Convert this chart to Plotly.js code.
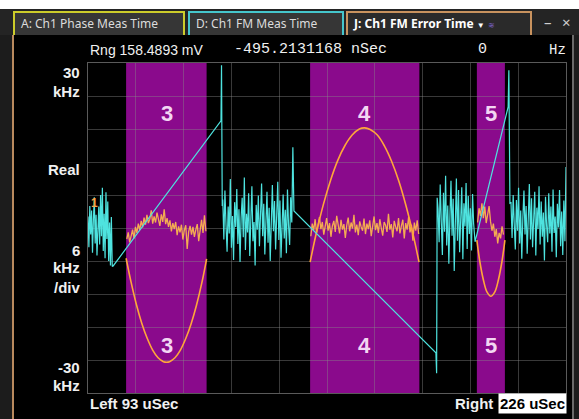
<!DOCTYPE html>
<html><head><meta charset="utf-8">
<script src="https://cdn.plot.ly/plotly-3.0.1.min.js"></script>
<style>
html,body{margin:0;padding:0;background:#fff;}
#wrap{position:relative;width:579px;height:419px;overflow:hidden;background:#000;}
#chart{position:absolute;left:0;top:0;width:579px;height:419px;}
.ov{position:absolute;pointer-events:none;box-sizing:border-box;}
.tab{position:absolute;top:11px;height:24px;box-sizing:border-box;border:2px solid;border-bottom:none;font:12px 'Noto Sans',sans-serif;color:#dcdcdc;line-height:21px;padding-left:6px;white-space:nowrap;background:#363636;pointer-events:none;}
</style></head>
<body>
<div id="wrap">
<div id="chart"></div>
<div class="ov" style="left:0;top:0;width:579px;height:9px;background:#fff;"></div>
<div class="ov" style="left:0;top:9px;width:579px;height:26px;background:#242424;"></div>
<div class="ov" style="left:0;top:35px;width:12px;height:384px;background:#1c1c1c;"></div>
<div class="ov" style="left:12px;top:35px;width:2px;height:384px;background:#b98a5e;"></div>
<div class="ov" style="left:572px;top:35px;width:7px;height:384px;background:#1c1c1c;border-left:2px solid #6a6a6a;"></div>
<div class="tab" style="left:13px;width:172px;border-color:#cccc2a;">A: Ch1 Phase Meas Time</div>
<div class="tab" style="left:188px;width:156px;border-color:#45c6cc;">D: Ch1 FM Meas Time</div>
<div class="tab" style="left:346px;width:186px;border-color:#c8925e;background:#2a2a2a;color:#fff;font-weight:bold;">J: Ch1 FM Error Time <span style="font-size:8px;">&#9660;</span> <span style="font-size:8px;color:#7c62c8;font-weight:normal;">&#8779;</span></div>
<div class="ov" style="left:544px;top:12px;font:15px 'Noto Sans',sans-serif;color:#cfcfcf;">&#8211;</div>
<div class="ov" style="left:562px;top:12px;font:15px 'Noto Sans',sans-serif;color:#cfcfcf;">&#215;</div>
</div>
<script>
// ---- axis / scale ----
const tLeft = 93, tRight = 226;          // uSec
const fMin = -30, fMax = 30;             // kHz, 6 kHz/div
const xDiv = 13.3, yDiv = 6;

// ---- shaded pulse regions ----
const regionLabels = ['3', '4', '5'];
const regionStart = [103.6, 154.8, 201.2];
const regionEnd = [126.0, 185.2, 209.0];
const regionLabelT = [115.0, 170.0, 205.1];
const regionLabelTopF = 20.9, regionLabelBotF = -21.3;

// ---- D: FM Meas (cyan) ----
const cyanNoise1T0 = 93.0, cyanNoise1Dt = 0.25;
const cyanNoise1 = [2.1, -3.5, 4.0, -1.2, 3.2, -4.5, 1.5, 5.6, -2.8, 2.4, -5.0, 0.8, 3.9, -3.0, 6.0, -1.5, 7.3, -4.2, 2.6, -5.5, 6.5, -2.0, 4.8, -6.0, 1.0, -6.8, 2.0, -7.0];
const ramp3T = [100.0, 130.0, 130.15, 130.35];
const ramp3F = [-6.9, 19.5, 29.6, 4.0];
const cyanNoise2T0 = 130.5, cyanNoise2Dt = 0.3;
const cyanNoise2 = [5.2, -2.1, 6.8, 0.5, -4.3, 3.9, -1.0, 8.9, -3.6, 2.2, -5.8, 4.7, 0.2, 7.1, -2.9, 3.4, -6.2, 1.8, 5.5, -1.7, 9.2, -4.0, 2.6, -0.8, 6.3, -5.1, 3.0, 7.6, -2.4, 1.1, -6.8, 4.2, -0.3, 5.9, -3.3, 2.9, 8.1, -1.5, 4.4, -4.8, 0.9, 6.6, -2.7, 3.7, -6.0, 1.5, 7.8, -0.6, 4.9, -3.9, 2.3, 8.4, -2.2, 5.0, -5.4, 1.2, 6.1, -1.9, 3.3, -4.6, 7.0, 0.4, -3.1, 5.6, 1.0];
const ramp4T = [150.0, 150.3, 189.8, 190.0, 190.15];
const ramp4F = [14.7, 3.1, -22.7, -26.4, 5.5];
const cyanNoise3T0 = 190.4, cyanNoise3Dt = 0.3;
const cyanNoise3 = [3.5, -2.6, 7.9, 1.2, -4.9, 6.4, -0.7, 9.5, -3.2, 4.1, -6.5, 2.0, 8.6, -1.4, 5.3, -7.8, 3.1, 9.0, -2.3, 6.9, -4.4, 1.6, 7.4, -5.7, 4.5, 0.3, 8.2, -3.8, 5.8, -1.1, 3.6, -4.1, 6.2, 0.8, -2.0];
const ramp5T = [200.7, 209.9, 210.1, 210.4];
const ramp5F = [-2.5, 22.0, 28.7, 4.5];
const cyanNoise4T0 = 210.7, cyanNoise4Dt = 0.3;
const cyanNoise4 = [4.6, -1.8, 6.0, 0.7, -3.9, 5.1, -0.5, 7.3, -2.8, 3.2, -5.6, 1.9, 6.8, -1.2, 4.0, -4.7, 2.5, 8.0, -2.1, 5.4, -3.5, 0.9, 6.6, -5.0, 3.7, -0.2, 7.6, -3.0, 4.8, -1.6, 2.8, -5.9, 5.7, 0.4, -2.6, 6.3, -1.0, 3.9, -4.3, 7.0, -0.9, 2.1, -5.3, 4.4, 0.1, 6.9, -3.3, 3.0, -4.9, 5.0, -2.4];
const endSpikeT = [226.0], endSpikeF = [11.1];

// ---- A: Phase (parabolas) ----
const phase3T = [103.6, 105.0, 106.5, 108.0, 109.5, 111.0, 112.5, 114.0, 114.85, 115.7, 117.2, 118.7, 120.2, 121.7, 123.2, 124.7, 126.0];
const phase3F = [-5.5, -9.9, -14.0, -17.4, -20.1, -22.2, -23.6, -24.3, -24.4, -24.3, -23.6, -22.2, -20.1, -17.4, -14.0, -9.9, -5.6];
const phase4T = [154.8, 156.5, 158.5, 160.5, 162.5, 164.5, 166.5, 168.5, 170.0, 171.5, 173.5, 175.5, 177.5, 179.5, 181.5, 183.5, 185.1];
const phase4F = [-6.2, -1.0, 4.3, 8.7, 12.3, 15.0, 16.9, 18.0, 18.2, 17.9, 16.9, 14.9, 12.1, 8.5, 4.0, -1.3, -6.2];
const phase5T = [201.2, 202.0, 203.0, 204.0, 205.1, 206.2, 207.2, 208.2, 209.0];
const phase5F = [-2.2, -6.0, -9.4, -11.6, -12.4, -11.6, -9.4, -6.0, -2.2];

// ---- J: FM Error (orange noise) ----
const err3T0 = 103.8, err3Dt = 0.4;
const err3 = [-2.0, -0.8, -2.6, -1.1, -0.3, -1.9, 0.2, -0.9, 0.8, -0.4, 1.3, 0.1, 1.9, 0.6, 2.4, 0.9, 1.6, 3.2, 0.8, 2.1, 1.0, 2.8, 1.2, 0.4, 2.5, 1.1, 3.4, 0.7, 1.8, 0.2, 1.4, -0.6, 0.9, -0.2, 1.1, -1.3, 0.3, -0.8, 0.6, -2.1, -0.4, 0.5, -3.8, -0.7, 0.4, -1.2, 0.2, -1.6, -0.3, 0.7, -2.4, -0.5, 1.5, -0.9, 2.3, -0.6];
const err4T0 = 155.0, err4Dt = 0.4;
const err4 = [-1.5, 0.8, -0.4, 1.6, -0.9, 0.3, 2.0, -0.2, 1.1, -1.2, 0.6, 1.8, -0.5, 0.9, -1.6, 0.4, 1.3, -0.7, 2.2, 0.1, -1.0, 1.5, -0.3, 0.7, -1.8, 0.5, 1.9, -0.6, 1.0, -0.1, 2.4, -0.8, 0.6, -1.3, 1.2, 0.2, -0.5, 1.7, -1.1, 0.8, -0.2, 1.4, -1.5, 0.3, 2.1, -0.4, 0.9, -0.9, 1.6, 0.0, -1.4, 1.1, 0.5, -0.7, 2.6, -0.3, 0.7, -1.7, 1.3, 0.2, -0.6, 1.8, -1.0, 0.4, 1.5, -1.9, 0.9, -0.3, 2.0, -0.8, 0.6, -2.3, 1.0, -0.5, 1.4, -1.1];
const err5T0 = 201.4, err5Dt = 0.4;
const err5 = [1.0, 3.6, 2.2, 4.5, 1.8, 3.9, 0.9, 2.7, 4.0, 1.2, -0.5, 0.8, -1.6, -0.2, -2.8, -0.9, -1.9, 0.3, -1.2];

// ---- texts ----
const headerRange = 'Rng 158.4893 mV';
const headerTime = '-495.2131168 nSec';
const headerFreqVal = '0';
const headerFreqUnit = 'Hz';
const markerLabel = '1', markerT = 94.7, markerF = 4.5;

// ===== build =====
const sampleTimes = (t0, dt, n) => Array.from({length: n}, (_, i) => +(t0 + i * dt).toFixed(3));
const cyanX = [].concat(
  sampleTimes(cyanNoise1T0, cyanNoise1Dt, cyanNoise1.length), ramp3T,
  sampleTimes(cyanNoise2T0, cyanNoise2Dt, cyanNoise2.length), ramp4T,
  sampleTimes(cyanNoise3T0, cyanNoise3Dt, cyanNoise3.length), ramp5T,
  sampleTimes(cyanNoise4T0, cyanNoise4Dt, cyanNoise4.length), endSpikeT);
const cyanY = [].concat(cyanNoise1, ramp3F, cyanNoise2, ramp4F, cyanNoise3, ramp5F, cyanNoise4, endSpikeF);

const errX = [].concat(sampleTimes(err3T0, err3Dt, err3.length), [null], sampleTimes(err4T0, err4Dt, err4.length), [null], sampleTimes(err5T0, err5Dt, err5.length));
const errY = [].concat(err3, [null], err4, [null], err5);

const phX = [].concat(phase3T, [null], phase4T, [null], phase5T);
const phY = [].concat(phase3F, [null], phase4F, [null], phase5F);

const traces = [
  {x: errX, y: errY, type: 'scatter', mode: 'lines', line: {color: '#f4ac52', width: 1.3}, connectgaps: false, hoverinfo: 'skip'},
  {x: phX, y: phY, type: 'scatter', mode: 'lines', line: {color: '#ffa63a', width: 1.6, shape: 'spline'}, connectgaps: false, hoverinfo: 'skip'},
  {x: cyanX, y: cyanY, type: 'scatter', mode: 'lines', line: {color: '#4ee3df', width: 1.2}, hoverinfo: 'skip'}
];

const shapes = regionStart.map((s, i) => ({
  type: 'rect', xref: 'x', yref: 'paper', x0: s, x1: regionEnd[i], y0: 0, y1: 1,
  fillcolor: '#8a0a8c', line: {width: 0}, layer: 'below'
}));

const lab = {family: 'Liberation Sans, Arial, sans-serif', size: 15, color: '#f0f0f0'};
const ann = [];
const side = (text, y) => ann.push({xref: 'paper', yref: 'paper', x: -0.0126, y: y, xanchor: 'right', yanchor: 'middle', text: '<b>' + text + '</b>', showarrow: false, font: lab});
side('30', 0.970); side('kHz', 0.915); side('Real', 0.676); side('6', 0.433);
side('kHz', 0.379); side('/div', 0.321); side('-30', 0.076); side('kHz', 0.024);

regionLabels.forEach((l, i) => {
  [regionLabelTopF, regionLabelBotF].forEach(f => ann.push({
    xref: 'x', yref: 'y', x: regionLabelT[i], y: f, text: '<b>' + l + '</b>', showarrow: false,
    font: {family: 'Liberation Sans, Arial, sans-serif', size: 22, color: '#f3d6f3'}
  }));
});
ann.push({xref: 'x', yref: 'y', x: markerT, y: markerF, text: '<b>' + markerLabel + '</b>', showarrow: false,
  font: {family: 'Liberation Sans, Arial, sans-serif', size: 12, color: '#f4a64c'}});

const hy = 1.0394;
ann.push({xref: 'paper', yref: 'paper', x: 0, y: hy, xanchor: 'left', yanchor: 'middle', text: headerRange, showarrow: false, font: {family: 'Liberation Sans, Arial, sans-serif', size: 14, color: '#f0f0f0'}});
ann.push({xref: 'paper', yref: 'paper', x: 0.301, y: hy, xanchor: 'left', yanchor: 'middle', text: headerTime, showarrow: false, font: {family: 'Liberation Mono, monospace', size: 15, color: '#f0f0f0'}});
ann.push({xref: 'paper', yref: 'paper', x: 0.826, y: hy, xanchor: 'center', yanchor: 'middle', text: headerFreqVal, showarrow: false, font: {family: 'Liberation Mono, monospace', size: 15, color: '#f0f0f0'}});
ann.push({xref: 'paper', yref: 'paper', x: 1.004, y: hy, xanchor: 'right', yanchor: 'middle', text: headerFreqUnit, showarrow: false, font: {family: 'Liberation Mono, monospace', size: 14, color: '#f0f0f0'}});

const by = -0.0333;
ann.push({xref: 'paper', yref: 'paper', x: 0, y: by, xanchor: 'left', yanchor: 'middle', text: '<b>Left ' + tLeft + ' uSec</b>', showarrow: false, font: lab});
ann.push({xref: 'paper', yref: 'paper', x: 0.8515, y: by, xanchor: 'right', yanchor: 'middle', text: '<b>Right</b>', showarrow: false, font: lab});
ann.push({xref: 'paper', yref: 'paper', x: 1.002, y: by, xanchor: 'right', yanchor: 'middle', text: '<b>' + tRight + ' uSec</b>', showarrow: false, bgcolor: '#ffffff', borderpad: 1, font: {family: 'Liberation Sans, Arial, sans-serif', size: 15, color: '#000'}});

const axisCommon = {showgrid: true, gridcolor: 'rgba(135,135,135,0.42)', gridwidth: 1, zeroline: false, showticklabels: false, ticks: '', showline: true, mirror: true, linecolor: '#5a5a5a', linewidth: 1, fixedrange: true};
const layout = {
  width: 579, height: 419,
  margin: {l: 88, r: 13, t: 63, b: 26, pad: 0},
  paper_bgcolor: '#000', plot_bgcolor: '#000',
  showlegend: false,
  xaxis: Object.assign({}, axisCommon, {range: [tLeft, tRight], tick0: tLeft, dtick: xDiv}),
  yaxis: Object.assign({}, axisCommon, {range: [fMin, fMax], tick0: fMin, dtick: yDiv}),
  shapes: shapes,
  annotations: ann
};
Plotly.newPlot('chart', traces, layout, {displayModeBar: false, staticPlot: true});
</script>
</body></html>
